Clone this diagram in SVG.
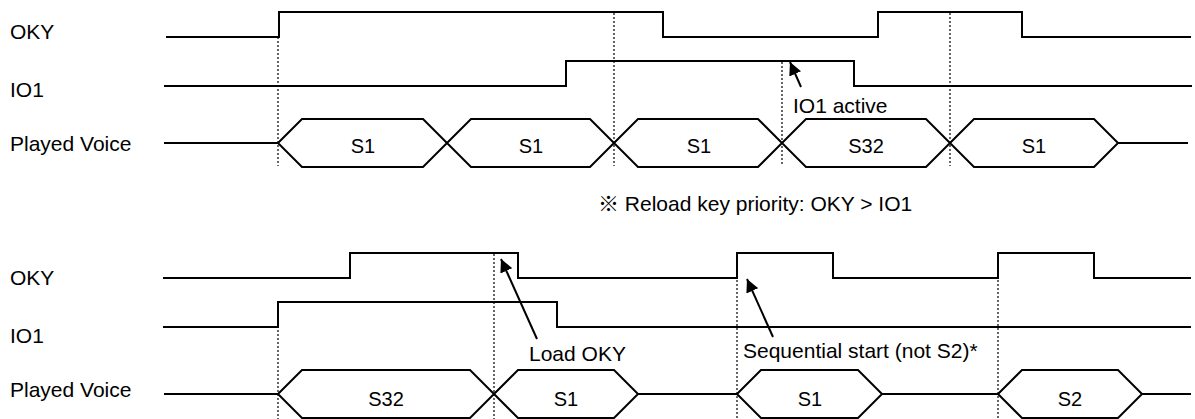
<svg xmlns="http://www.w3.org/2000/svg" width="1195" height="419" viewBox="0 0 1195 419">
<defs>
<style>
.t{font-family:"Liberation Sans",Arial,"Noto Sans CJK JP",sans-serif;font-size:21px;fill:#000}
.v{font-family:"Liberation Sans",Arial,sans-serif;font-size:20px;fill:#000;text-anchor:middle}
.w{fill:none;stroke:#000;stroke-width:2;stroke-linejoin:miter}
.h{fill:#fff;stroke:#000;stroke-width:2;stroke-linejoin:miter}
.d{fill:none;stroke:#000;stroke-width:1.2;stroke-dasharray:2 2}
.a{fill:none;stroke:#000;stroke-width:2}
</style>
<marker id="ah" viewBox="0 0 10 10" refX="10" refY="5" markerWidth="6.5" markerHeight="6.5" markerUnits="strokeWidth" orient="auto">
<path d="M0,0 L10,5 L0,10 z" fill="#000"/>
</marker>
</defs>
<rect width="1195" height="419" fill="#fff"/>

<g id="guides">
<line class="d" x1="278" y1="37" x2="278" y2="166"/>
<line class="d" x1="614" y1="13" x2="614" y2="166"/>
<line class="d" x1="782" y1="62" x2="782" y2="166"/>
<line class="d" x1="950" y1="13" x2="950" y2="166"/>
<line class="d" x1="278" y1="302" x2="278" y2="419"/>
<line class="d" x1="494" y1="254" x2="494" y2="419"/>
<line class="d" x1="737" y1="268" x2="737" y2="419"/>
<line class="d" x1="998" y1="268" x2="998" y2="419"/>
</g>

<g id="top-oky">
<text class="t" x="10" y="39">OKY</text>
<polyline class="w" points="166,37 279,37 279,12 663,12 663,37 878,37 878,12 1022,12 1022,37 1191,37"/>
</g>
<g id="top-io1">
<text class="t" x="10" y="97">IO1</text>
<polyline class="w" points="164,86 566,86 566,61 854,61 854,86 1192,86"/>
</g>
<g id="top-voice">
<text class="t" x="10" y="151">Played Voice</text>
<line class="w" x1="164" y1="143" x2="278" y2="143"/>
<line class="w" x1="1118" y1="143" x2="1188" y2="143"/>
<polygon class="h" points="278,143 302,119 423,119 447,143 423,167 302,167"/>
<polygon class="h" points="447,143 471,119 590,119 614,143 590,167 471,167"/>
<polygon class="h" points="614,143 638,119 758,119 782,143 758,167 638,167"/>
<polygon class="h" points="782,143 806,119 926,119 950,143 926,167 806,167"/>
<polygon class="h" points="950,143 974,119 1094,119 1118,143 1094,167 974,167"/>
<text class="v" x="363" y="153">S1</text>
<text class="v" x="531" y="153">S1</text>
<text class="v" x="699" y="153">S1</text>
<text class="v" x="866" y="153">S32</text>
<text class="v" x="1034" y="153">S1</text>
</g>

<g id="note">
<text class="t" x="598" y="211">※ Reload key priority: OKY &gt; IO1</text>
</g>

<g id="bottom-oky">
<text class="t" x="10" y="285">OKY</text>
<polyline class="w" points="163,278 350,278 350,253 518,253 518,278 737,278 737,253 833,253 833,278 998,278 998,253 1094,253 1094,278 1191,278"/>
</g>
<g id="bottom-io1">
<text class="t" x="10" y="343">IO1</text>
<polyline class="w" points="163,327 278,327 278,302 557,302 557,327 1191,327"/>
</g>
<g id="bottom-voice">
<text class="t" x="10" y="397">Played Voice</text>
<line class="w" x1="164" y1="394" x2="278" y2="394"/>
<line class="w" x1="638" y1="394" x2="737" y2="394"/>
<line class="w" x1="882" y1="394" x2="998" y2="394"/>
<line class="w" x1="1142" y1="394" x2="1191" y2="394"/>
<polygon class="h" points="278,394 302,370 470,370 494,394 470,418 302,418"/>
<polygon class="h" points="494,394 518,370 614,370 638,394 614,418 518,418"/>
<polygon class="h" points="737,394 761,370 858,370 882,394 858,418 761,418"/>
<polygon class="h" points="998,394 1022,370 1118,370 1142,394 1118,418 1022,418"/>
<text class="v" x="386" y="406">S32</text>
<text class="v" x="566" y="406">S1</text>
<text class="v" x="810" y="406">S1</text>
<text class="v" x="1070" y="406">S2</text>
</g>

<g id="connectors">
<line class="a" x1="801" y1="87" x2="790" y2="62" marker-end="url(#ah)"/>
<line class="a" x1="537" y1="339" x2="501" y2="259" marker-end="url(#ah)"/>
<line class="a" x1="773" y1="337" x2="747" y2="279" marker-end="url(#ah)"/>
</g>

<g id="labels">
<text class="t" x="793" y="113">IO1 active</text>
<text class="t" x="529" y="361">Load OKY</text>
<text class="t" x="743" y="358">Sequential start (not S2)*</text>
</g>
</svg>
